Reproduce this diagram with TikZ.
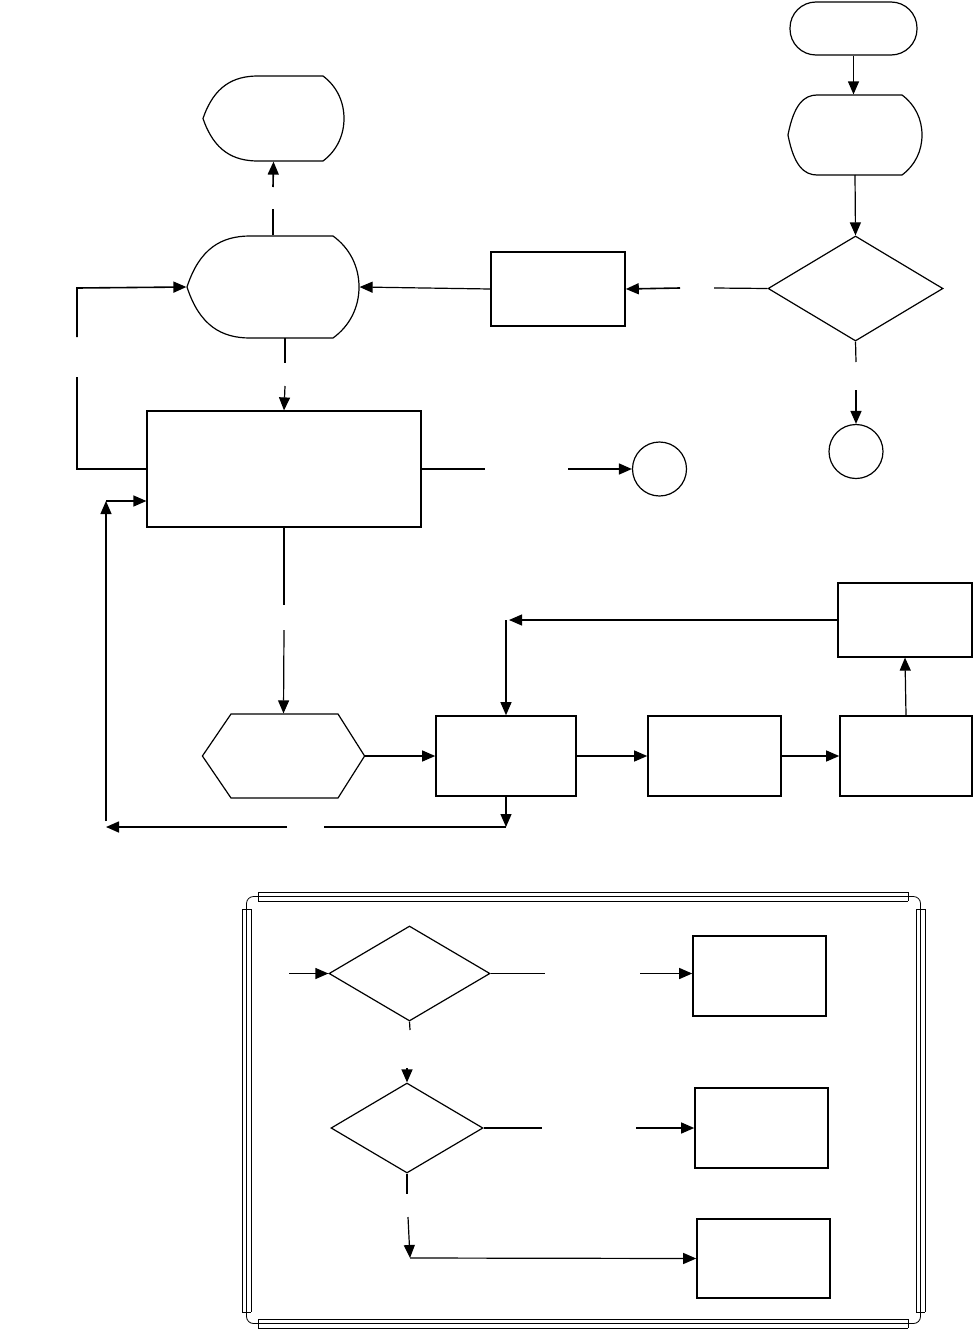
\documentclass[tikz,border=0pt]{standalone}
\usetikzlibrary{arrows.meta,shapes.geometric}
% display symbol: name, left, top, right, bottom, left curve, right bulge
\newcommand\dispshape[7]{%
  \node[hold,minimum width={(#4-#2)*1pt},minimum height={(#5-#3)*1pt}] (#1) at ({(#2+#4)/2},{(#3+#5)/2}) {};
  \draw[shapeline] (#2,{(#3+#5)/2}) .. controls ({#2+0.2*#6},{#3+0.12*(#5-#3)}) and ({#2+0.55*#6},#3) .. ({#2+#6},#3)
    -- ({#4-#7},#3) .. controls ({#4-0.35*#7},{#3+0.12*(#5-#3)}) and (#4,{#3+0.3*(#5-#3)}) .. (#4,{(#3+#5)/2})
    .. controls (#4,{#5-0.3*(#5-#3)}) and ({#4-0.35*#7},{#5-0.12*(#5-#3)}) .. ({#4-#7},#5)
    -- ({#2+#6},#5) .. controls ({#2+0.55*#6},#5) and ({#2+0.2*#6},{#5-0.12*(#5-#3)}) .. (#2,{(#3+#5)/2});}
\begin{document}
\begin{tikzpicture}[x=1pt,y=-1pt,line width=1.2pt,
  hold/.style={inner sep=0pt},
  shapeline/.style={line width=1.2pt},
  box/.style={draw,line width=1.6pt,inner sep=0pt},
  ask/.style={draw,diamond,inner sep=0pt},
  con/.style={draw,circle,inner sep=0pt,minimum size=54pt},
  link/.style={-{Triangle[length=13pt,width=11pt]}},
  frame/.style={line width=0.8pt}]
\useasboundingbox (0,0) rectangle (974,1330);
% --- upper chart ---
\node[draw,rounded corners=26pt,inner sep=0pt,minimum width=127pt,minimum height=53pt] (start) at (853.5,28.5) {};
\dispshape{input}{788}{95}{922}{175}{29}{20}
\node[ask,minimum width=175pt,minimum height=105pt] (check) at (855.5,288.5) {};
\node[box,minimum width=134pt,minimum height=74pt] (proc) at (558,289) {};
\dispshape{show}{187}{236}{359}{338}{63}{26}
\dispshape{result}{203}{76}{344}{161}{55}{21}
\node[box,line width=1.2pt,minimum width=274pt,minimum height=116pt] (main) at (284,469) {};
\node[con] (conA) at (659.5,469) {};
\node[con] (conB) at (856,451.5) {};
\node[hold,minimum width=161pt,minimum height=84pt] (prep) at (283.5,756) {};
\draw[shapeline] (prep.west) -- (231,714) -- (338,714) -- (prep.east) -- (338,798) -- (231,798) -- cycle;
\node[box,minimum width=140pt,minimum height=80pt] (step1) at (506,756) {};
\node[box,minimum width=133pt,minimum height=80pt] (step2) at (714.5,756) {};
\node[box,minimum width=132pt,minimum height=80pt] (step3) at (906,756) {};
\node[box,line width=1.2pt,minimum width=134pt,minimum height=74pt] (step4) at (905,620) {};
% --- gap ends ---
\coordinate (g1) at (714,288); \coordinate (g2) at (680,288);
\coordinate (g3) at (273,209); \coordinate (g4) at (273,187);
\coordinate (g5) at (285,363); \coordinate (g6) at (285,386);
\coordinate (g7) at (77,469);  \coordinate (g8) at (77,377);
\coordinate (g9) at (77,337);  \coordinate (g10) at (77,288);
\coordinate (g11) at (485,469); \coordinate (g12) at (568,469);
\coordinate (g13) at (856,362); \coordinate (g14) at (856,390);
\coordinate (g15) at (284,605); \coordinate (g16) at (284,630);
\coordinate (g17) at (509,620); \coordinate (g18) at (506,620);
\coordinate (g19) at (506,827); \coordinate (g20) at (324,827);
\coordinate (g21) at (287,827); \coordinate (g22) at (106,827);
\coordinate (g23) at (106,821); \coordinate (g24) at (106,501);
% --- connectors ---
\draw[link] (start) -- (input.north -| start);
\draw[link] (855,175) -- (check.north);
\draw (check.west) -- (g1);
\draw[link,line width=1.6pt] (g2) -- (proc.east);
\draw[link] (proc.west) -- (show.east);
\draw (show.north) -- (g3);
\draw[link,line width=1.6pt] (g4) -- (result.south);
\draw (285,338) -- (g5);
\draw[link] (g6) -- (main.north);
\draw[line width=1.6pt] (main.west |- g7) -- (g7) -- (g8);
\draw[link,line width=1.6pt] (g9) -- (g10) -- (show.west);
\draw[line width=1.6pt] (main.east) -- (g11);
\draw[link,line width=1.6pt] (g12) -- (conA.west);
\draw (check.south) -- (g13);
\draw[link,line width=1.6pt] (g14) -- (conB.north);
\draw (main.south) -- (g15);
\draw[link] (g16) -- (prep.north);
\draw[link] (prep.east) -- (step1.west);
\draw[link] (step1.east) -- (step2.west);
\draw[link] (step2.east) -- (step3.west);
\draw[link] (step3.north) -- (step4.south);
\draw[link] (step4.west) -- (g17);
\draw[link] (g18) -- (step1.north);
\draw[link] (step1.south) -- (g19);
\draw[line width=1.6pt] (g19) -- (g20);
\draw[link,line width=1.6pt] (g21) -- (g22);
\draw[link] (g23) -- (g24);
\draw[link] (g24) -- (main.west |- g24);
% --- legend frame ---
\foreach \d in {0,4.5,9} {
  \draw[frame] (242+\d,909) -- (242+\d,1312);
  \draw[frame] (925-\d,909) -- (925-\d,1312);
  \draw[frame] (258,892+\d) -- (908,892+\d);
  \draw[frame] (258,1328-\d) -- (908,1328-\d);
}
\draw[frame] (242,909) -- (251,909) (258,892) -- (258,901);
\draw[frame] (916,909) -- (925,909) (908,892) -- (908,901);
\draw[frame] (242,1312) -- (251,1312) (258,1319) -- (258,1328);
\draw[frame] (916,1312) -- (925,1312) (908,1319) -- (908,1328);
\draw[frame,rounded corners=7pt] (246.5,909) |- (258,896.5);
\draw[frame,rounded corners=7pt] (920.5,909) |- (908,896.5);
\draw[frame,rounded corners=7pt] (246.5,1312) |- (258,1323.5);
\draw[frame,rounded corners=7pt] (920.5,1312) |- (908,1323.5);
% --- legend ---
\node[ask,minimum width=161pt,minimum height=95pt] (ask1) at (409.5,973.5) {};
\node[ask,minimum width=152pt,minimum height=90pt] (ask2) at (407,1128) {};
\node[box,minimum width=133pt,minimum height=80pt] (res1) at (759.5,976) {};
\node[box,minimum width=133pt,minimum height=80pt] (res2) at (761.5,1128) {};
\node[box,minimum width=133pt,minimum height=79pt] (res3) at (763.5,1258.5) {};
\coordinate (h0) at (289,973.5);
\coordinate (h1) at (545,973.5); \coordinate (h2) at (640,973.5);
\coordinate (h3) at (410,1030); \coordinate (h4) at (407,1068);
\coordinate (h5) at (542,1128); \coordinate (h6) at (636,1128);
\coordinate (h7) at (407,1194); \coordinate (h8) at (408,1217);
\coordinate (h9) at (410,1258);
\draw[link] (h0) -- (ask1.west);
\draw (ask1.east) -- (h1);
\draw[link] (h2) -- (res1.west |- h2);
\draw (ask1.south) -- (h3);
\draw[link] (h4) -- (ask2.north);
\draw (ask2.east) -- (h5);
\draw[link] (h6) -- (res2.west);
\draw (ask2.south) -- (h7);
\draw[link] (h8) -- (h9);
\draw[link] (h9) -- (res3.west);
\end{tikzpicture}
\end{document}
